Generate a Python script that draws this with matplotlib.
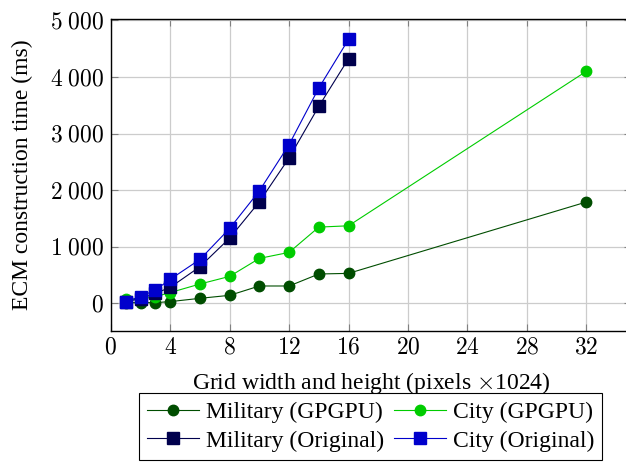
import matplotlib.pyplot as plt

plt.rcParams['font.family'] = ['Liberation Serif', 'DejaVu Serif']
plt.rcParams['mathtext.fontset'] = 'cm'

# grid sizes (x1024 pixels)
x_gpgpu = [1, 2, 3, 4, 6, 8, 10, 12, 14, 16, 32]
x_orig = [1, 2, 3, 4, 6, 8, 10, 12, 14, 16]

# construction times in ms
military_gpgpu = [10, 12, 12, 30, 88, 141, 306, 306, 518, 529, 1790]
city_gpgpu = [70, 75, 117, 190, 341, 476, 794, 900, 1347, 1370, 4100]
military_orig = [30, 80, 176, 282, 647, 1153, 1794, 2570, 3482, 4324]
city_orig = [30, 118, 235, 424, 776, 1324, 1988, 2806, 3806, 4665]

xticks = [0, 4, 8, 12, 16, 20, 24, 28, 32]
yticks = [0, 1000, 2000, 3000, 4000, 5000]
ytick_labels = [r'$0$', r'$1\;000$', r'$2\;000$', r'$3\;000$', r'$4\;000$', r'$5\;000$']

fig = plt.figure(figsize=(6.26, 4.62), dpi=100)
ax = fig.add_axes([0.177, 0.2835, 0.8307, 0.6747])

ax.plot(x_gpgpu, military_gpgpu, '-o', color='#004d00', lw=0.8, ms=7.5,
        label='Military (GPGPU)', zorder=3)
ax.plot(x_gpgpu, city_gpgpu, '-o', color='#00cc00', lw=0.8, ms=7.5,
        label='City (GPGPU)', zorder=3)
ax.plot(x_orig, military_orig, '-s', color='#00004d', lw=0.8, ms=8,
        label='Military (Original)', zorder=4)
ax.plot(x_orig, city_orig, '-s', color='#0000cc', lw=0.8, ms=8,
        label='City (Original)', zorder=4)

ax.set_xlim(0, 35)
ax.set_ylim(-490, 5020)
ax.set_xticks(xticks)
ax.set_xticklabels([r'$%d$' % t for t in xticks])
ax.set_yticks(yticks)
ax.set_yticklabels(ytick_labels)
ax.tick_params(direction='in', length=5, color='#808080', labelsize=17,
               top=True, right=True, pad=5)
ax.grid(True, color='#cccccc', lw=0.9)
ax.set_axisbelow(True)
for s in ax.spines.values():
    s.set_linewidth(1.0)

ax.set_xlabel(r'Grid width and height (pixels $\times$1024)', fontsize=17, labelpad=8)
ax.set_ylabel('ECM construction time (ms)', fontsize=17, labelpad=12)

# handles in the reference order (row-wise, two columns)
h, l = ax.get_legend_handles_labels()
order = [0, 2, 1, 3]
leg = fig.legend([h[i] for i in order], [l[i] for i in order], ncol=2,
                 loc='upper center', bbox_to_anchor=(0.592, 0.149),
                 fontsize=17, frameon=True, fancybox=False, edgecolor='black',
                 framealpha=1, borderpad=0.35, columnspacing=0.4,
                 handlelength=2.2, handletextpad=0.3, labelspacing=0.3,
                 borderaxespad=0)
leg.get_frame().set_linewidth(0.8)

fig.savefig('out.png', dpi=100)
